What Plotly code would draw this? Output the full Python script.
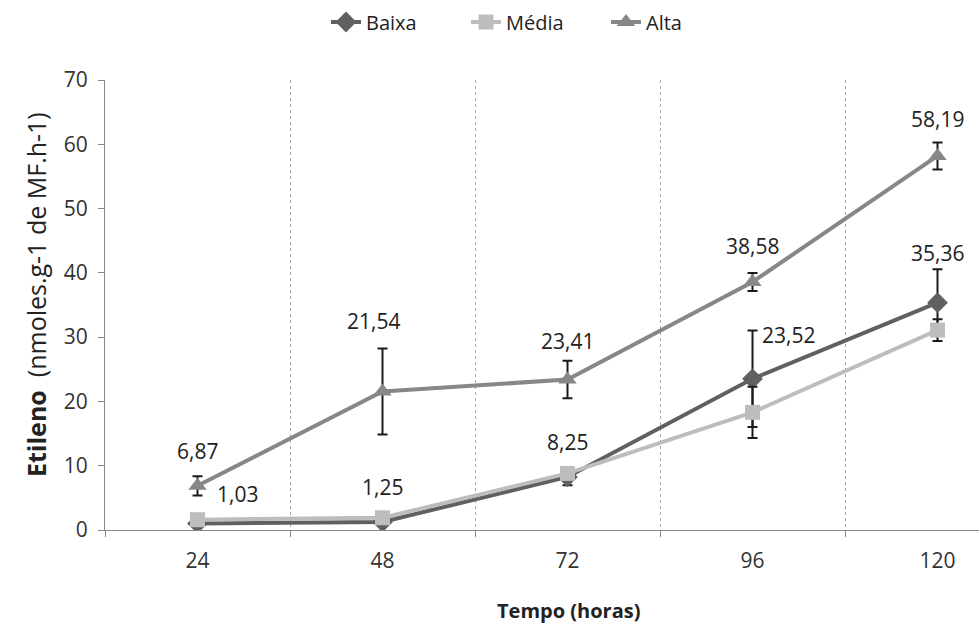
import plotly.graph_objects as go

categories = ["24", "48", "72", "96", "120"]
baixa = [1.03, 1.25, 8.25, 23.52, 35.36]
media = [1.6, 1.9, 8.8, 18.3, 31.1]
alta = [6.87, 21.54, 23.41, 38.58, 58.19]
baixa_err = [0.3, 0.4, 1.3, 7.5, 5.2]
media_err = [0.3, 0.4, 0.6, 4.0, 1.7]
alta_err = [1.5, 6.7, 2.9, 1.4, 2.1]

baixa_labels = ["1,03", "1,25", "8,25", "23,52", "35,36"]
alta_labels = ["6,87", "21,54", "23,41", "38,58", "58,19"]
# label offsets (style): (xshift, yshift) in px
baixa_off = [(40, 29), (0, 35), (0, 35), (36, 44), (0, 50)]
alta_off = [(0, 35), (-9, 71), (0, 39), (0, 36), (0, 37)]

FONT = "Open Sans"
fig = go.Figure()

def add(name, y, err, color, symbol, size):
    fig.add_trace(go.Scatter(
        x=categories, y=y, name=name, mode="lines+markers",
        line=dict(color=color, width=4),
        marker=dict(symbol=symbol, size=size, color=color),
        error_y=dict(type="data", array=err, visible=True, color="#1a1a1a",
                     thickness=2, width=5),
    ))

add("Baixa", baixa, baixa_err, "#606060", "diamond", 16)
add("Média", media, media_err, "#BDBDBD", "square", 15)
add("Alta", alta, alta_err, "#878787", "triangle-up", 16)

for i, (v, lab, (dx, dy)) in enumerate(zip(baixa, baixa_labels, baixa_off)):
    fig.add_annotation(x=i, y=v, xref="x", yref="y", text=lab, showarrow=False,
                       xshift=dx, yshift=dy,
                       font=dict(family=FONT, size=21, color="#222222"))
for i, (v, lab, (dx, dy)) in enumerate(zip(alta, alta_labels, alta_off)):
    fig.add_annotation(x=i, y=v, xref="x", yref="y", text=lab, showarrow=False,
                       xshift=dx, yshift=dy,
                       font=dict(family=FONT, size=21, color="#222222"))

# axis titles (x title is centred on the full category span, part of which is cropped)
fig.add_annotation(text="<b>Tempo (horas)</b>", xref="paper", yref="paper",
                   x=(568 - 105) / 874, y=-80 / 450, xanchor="center", yanchor="middle",
                   showarrow=False, font=dict(family=FONT, size=20, color="#222222"))
fig.add_annotation(text="<b>Etileno</b>&nbsp;&nbsp;(nmoles.g-1 de MF.h-1)", xref="paper", yref="paper",
                   x=(36 - 105) / 874, y=(530 - 295) / 450, xanchor="center", yanchor="middle",
                   textangle=-90, showarrow=False,
                   font=dict(family=FONT, size=25, color="#222222"))

fig.update_layout(
    width=979, height=634,
    margin=dict(l=105, r=0, t=80, b=104),
    paper_bgcolor="white", plot_bgcolor="white",
    font=dict(family=FONT, size=21, color="#333333"),
    legend=dict(orientation="h", x=(536 - 105) / 874, xanchor="center",
                y=1 + 58 / 450, yanchor="middle",
                font=dict(family=FONT, size=20, color="#222222"),
                entrywidth=95, entrywidthmode="pixels"),
    showlegend=True,
)
fig.update_xaxes(
    type="category", range=[-0.5, -0.5 + (979 - 105) / 185],
    tickson="boundaries", ticks="outside", ticklen=6, tickcolor="#868686",
    showgrid=True, gridcolor="#a8a8a8", gridwidth=1, griddash="dot",
    showline=True, linecolor="#868686", linewidth=1,
    tickfont=dict(family=FONT, size=21, color="#333333"),
    ticklabelstandoff=12,
    fixedrange=True,
)
fig.update_yaxes(
    range=[0, 70], dtick=10, showgrid=False, zeroline=False,
    ticks="outside", ticklen=6, tickcolor="#868686",
    showline=True, linecolor="#868686", linewidth=1,
    tickfont=dict(family=FONT, size=21, color="#333333"),
    ticklabelstandoff=6,
)

fig.write_html("out.html")
